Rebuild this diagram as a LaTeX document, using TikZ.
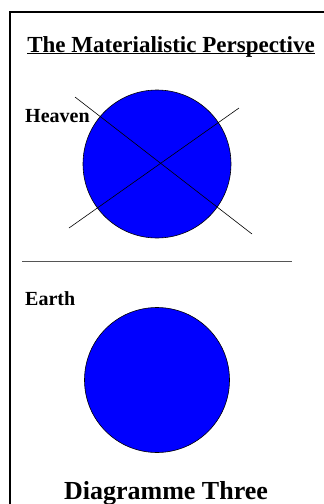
\documentclass[tikz,border=0pt]{standalone}
\usepackage{fontspec}
\setmainfont{Liberation Serif}
\definecolor{globe-blue}{HTML}{0000FF}
\definecolor{rule-gray}{HTML}{555555}
\begin{document}
\begin{tikzpicture}[x=1pt, y=-1pt,
        every node/.style={font=\bfseries, inner sep=0pt}]
      \useasboundingbox (0,0) rectangle (324,504);
      \fill[white] (0,0) rectangle (324,504);
      \draw[line width=1.4pt] (10,504) -- (10,12) -- (324,12);
      \node[font=\bfseries\fontsize{23}{27}\selectfont, anchor=base] (TITLE) at (171,52) {The Materialistic Perspective};
      \draw[line width=1.2pt] ([yshift=-1.5pt]TITLE.base west) -- ([yshift=-1.5pt]TITLE.base east);
      \node[circle, draw, fill=globe-blue, line width=0.6pt, minimum size=148pt] (HEAVEN) at (157,164) {};
      \draw[line width=0.6pt] (75,97) -- (252,234);
      \draw[line width=0.6pt] (239,108) -- (69,228);
      \node[font=\bfseries\fontsize{20}{24}\selectfont, anchor=base west] (HLBL) at (25,122) {Heaven};
      \draw[draw=rule-gray, line width=0.8pt] (22,261) -- (292,261);
      \node[font=\bfseries\fontsize{20}{24}\selectfont, anchor=base west] (ELBL) at (25,305) {Earth};
      \node[circle, draw, fill=globe-blue, line width=0.6pt, minimum size=145pt] (EARTH) at (157,380) {};
      \node[font=\bfseries\fontsize{26}{30}\selectfont, anchor=base] (CAPTION) at (166,499) {Diagramme Three};
    \end{tikzpicture}
\end{document}
